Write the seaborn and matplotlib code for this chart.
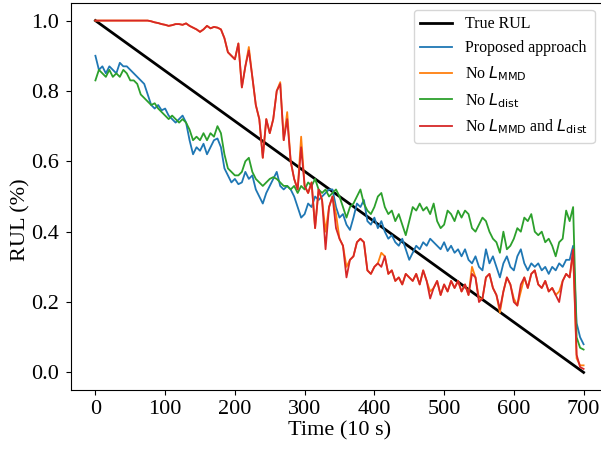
import numpy as np
import pandas as pd
import matplotlib
matplotlib.use("Agg")
import matplotlib.pyplot as plt
import seaborn as sns

# ---------------- data ----------------
time = list(range(0, 701, 5))

true_rul = [1.0, 0.0]
true_time = [0, 700]

proposed = [
    0.90, 0.86, 0.87, 0.85, 0.87, 0.86, 0.85, 0.88, 0.87, 0.87,   # 0-45
    0.86, 0.85, 0.84, 0.83, 0.82, 0.79, 0.76, 0.75, 0.76, 0.745,  # 50-95
    0.75, 0.73, 0.72, 0.71, 0.72, 0.73, 0.71, 0.66, 0.62, 0.64,   # 100-145
    0.63, 0.65, 0.62, 0.64, 0.66, 0.665, 0.64, 0.58, 0.56, 0.54,  # 150-195
    0.55, 0.535, 0.54, 0.57, 0.55, 0.56, 0.52, 0.50, 0.48, 0.51,  # 200-245
    0.53, 0.55, 0.57, 0.53, 0.52, 0.53, 0.52, 0.50, 0.47, 0.44,   # 250-295
    0.45, 0.48, 0.47, 0.50, 0.49, 0.50, 0.51, 0.52, 0.52, 0.47,   # 300-345
    0.44, 0.45, 0.42, 0.405, 0.44, 0.48, 0.47, 0.49, 0.43, 0.42,  # 350-395
    0.44, 0.41, 0.43, 0.40, 0.38, 0.39, 0.37, 0.36, 0.38, 0.35,   # 400-445
    0.32, 0.34, 0.36, 0.35, 0.37, 0.36, 0.38, 0.37, 0.36, 0.35,   # 450-495
    0.37, 0.345, 0.36, 0.34, 0.35, 0.33, 0.35, 0.32, 0.31, 0.33,  # 500-545
    0.30, 0.29, 0.35, 0.31, 0.33, 0.30, 0.27, 0.31, 0.33, 0.30,   # 550-595
    0.29, 0.33, 0.35, 0.31, 0.29, 0.31, 0.30, 0.31, 0.29, 0.30,   # 600-645
    0.28, 0.30, 0.29, 0.31, 0.30, 0.32, 0.32, 0.36, 0.14, 0.10,   # 650-695
    0.08,                                                         # 700
]

no_dist = [
    0.83, 0.86, 0.85, 0.84, 0.86, 0.84, 0.85, 0.84, 0.86, 0.85,
    0.83, 0.83, 0.82, 0.79, 0.78, 0.77, 0.76, 0.765, 0.75, 0.74,
    0.73, 0.72, 0.73, 0.72, 0.71, 0.72, 0.71, 0.69, 0.66, 0.67,
    0.66, 0.68, 0.66, 0.68, 0.67, 0.70, 0.68, 0.62, 0.58, 0.57,
    0.56, 0.56, 0.57, 0.60, 0.61, 0.57, 0.55, 0.54, 0.53, 0.54,
    0.55, 0.555, 0.55, 0.54, 0.53, 0.53, 0.52, 0.53, 0.51, 0.53,
    0.52, 0.54, 0.53, 0.55, 0.52, 0.51, 0.52, 0.50, 0.51, 0.52,
    0.50, 0.47, 0.44, 0.47, 0.48, 0.50, 0.52, 0.48, 0.46, 0.45,
    0.47, 0.50, 0.51, 0.47, 0.45, 0.46, 0.43, 0.45, 0.42, 0.39,
    0.43, 0.47, 0.46, 0.48, 0.46, 0.47, 0.45, 0.48, 0.43, 0.41,
    0.42, 0.46, 0.45, 0.43, 0.46, 0.44, 0.46, 0.45, 0.41, 0.40,
    0.42, 0.44, 0.43, 0.40, 0.38, 0.37, 0.34, 0.40, 0.35, 0.36,
    0.38, 0.41, 0.40, 0.44, 0.43, 0.45, 0.40, 0.39, 0.40, 0.37,
    0.38, 0.36, 0.33, 0.37, 0.38, 0.46, 0.43, 0.47, 0.10, 0.07,
    0.065,
]

no_both = [
    1.0, 1.0, 1.0, 1.0, 1.0, 1.0, 1.0, 1.0, 1.0, 1.0,
    1.0, 1.0, 1.0, 1.0, 1.0, 1.0, 0.998, 0.995, 0.993, 0.99,
    0.988, 0.985, 0.987, 0.99, 0.99, 0.988, 0.992, 0.985, 0.98, 0.975,
    0.968, 0.975, 0.985, 0.978, 0.982, 0.98, 0.975, 0.95, 0.91, 0.90,
    0.89, 0.935, 0.81, 0.87, 0.915, 0.84, 0.76, 0.72, 0.61, 0.72,
    0.68, 0.72, 0.80, 0.82, 0.66, 0.72, 0.60, 0.55, 0.52, 0.64,
    0.53, 0.51, 0.54, 0.41, 0.52, 0.49, 0.35, 0.47, 0.50, 0.41,
    0.38, 0.36, 0.27, 0.32, 0.33, 0.37, 0.38, 0.37, 0.29, 0.28,
    0.30, 0.31, 0.30, 0.33, 0.28, 0.29, 0.26, 0.27, 0.25, 0.28,
    0.27, 0.26, 0.28, 0.25, 0.29, 0.26, 0.21, 0.24, 0.26, 0.22,
    0.25, 0.23, 0.26, 0.24, 0.26, 0.23, 0.25, 0.22, 0.28, 0.27,
    0.20, 0.21, 0.27, 0.28, 0.24, 0.22, 0.18, 0.23, 0.27, 0.25,
    0.20, 0.19, 0.25, 0.27, 0.24, 0.28, 0.29, 0.25, 0.24, 0.26,
    0.23, 0.24, 0.22, 0.20, 0.26, 0.28, 0.27, 0.35, 0.05, 0.015,
    0.01,
]

no_mmd = [
    1.0, 1.0, 1.0, 1.0, 1.0, 1.0, 1.0, 1.0, 1.0, 1.0,
    1.0, 1.0, 1.0, 1.0, 1.0, 1.0, 0.998, 0.995, 0.993, 0.99,
    0.988, 0.985, 0.987, 0.99, 0.99, 0.988, 0.992, 0.985, 0.98, 0.975,
    0.968, 0.975, 0.985, 0.978, 0.982, 0.98, 0.975, 0.95, 0.91, 0.90,
    0.89, 0.935, 0.81, 0.87, 0.925, 0.84, 0.76, 0.72, 0.61, 0.72,
    0.68, 0.72, 0.80, 0.825, 0.66, 0.74, 0.60, 0.55, 0.52, 0.67,
    0.53, 0.51, 0.54, 0.41, 0.52, 0.49, 0.40, 0.47, 0.50, 0.45,
    0.38, 0.36, 0.30, 0.32, 0.33, 0.37, 0.38, 0.37, 0.29, 0.28,
    0.30, 0.31, 0.34, 0.33, 0.28, 0.29, 0.26, 0.27, 0.25, 0.28,
    0.27, 0.26, 0.28, 0.25, 0.29, 0.26, 0.23, 0.24, 0.26, 0.22,
    0.25, 0.23, 0.26, 0.24, 0.26, 0.23, 0.25, 0.22, 0.30, 0.27,
    0.21, 0.21, 0.27, 0.28, 0.24, 0.22, 0.17, 0.23, 0.27, 0.25,
    0.21, 0.19, 0.23, 0.27, 0.24, 0.28, 0.29, 0.25, 0.24, 0.26,
    0.23, 0.24, 0.22, 0.23, 0.26, 0.28, 0.27, 0.34, 0.04, 0.02,
    0.02,
]

labels = ["True RUL", "Proposed approach", r"No $L_{\mathrm{MMD}}$",
          r"No $L_{\mathrm{dist}}$", r"No $L_{\mathrm{MMD}}$ and $L_{\mathrm{dist}}$"]

# ---------------- style ----------------
plt.rcParams["font.family"] = ["Liberation Serif", "DejaVu Serif"]
plt.rcParams["mathtext.fontset"] = "dejavusans"

fig = plt.figure(figsize=(6.01, 4.5), dpi=100)
ax = fig.add_axes([71 / 601, 60 / 450, 537 / 601, 387 / 450])

df_true = pd.DataFrame({"t": true_time, "v": true_rul})
sns.lineplot(data=df_true, x="t", y="v", ax=ax, color="black", linewidth=2.0, label=labels[0])

series = [proposed, no_mmd, no_dist, no_both]
colors = ["#1f77b4", "#ff7f0e", "#2ca02c", "#d62728"]
for vals, c, lab in zip(series, colors, labels[1:]):
    d = pd.DataFrame({"t": time, "v": vals})
    sns.lineplot(data=d, x="t", y="v", ax=ax, color=c, linewidth=1.3, label=lab)

ax.set_xlim(-35, 735)
ax.set_ylim(-0.05, 1.05)
ax.set_xticks([0, 100, 200, 300, 400, 500, 600, 700])
ax.set_yticks([0.0, 0.2, 0.4, 0.6, 0.8, 1.0])
ax.set_yticklabels(["0.0", "0.2", "0.4", "0.6", "0.8", "1.0"])
ax.tick_params(labelsize=16)
ax.tick_params(axis="y", pad=5)
ax.set_xlabel("Time (10 s)", fontsize=16, labelpad=2)
ax.set_ylabel("RUL (%)", fontsize=16)
ax.yaxis.set_label_coords(-0.076, 0.44)

leg = ax.legend(loc="upper left", bbox_to_anchor=(343 / 537, 1 - 7 / 387),
                fontsize=11.5, borderaxespad=0)

fig.savefig("out.png", dpi=100)
